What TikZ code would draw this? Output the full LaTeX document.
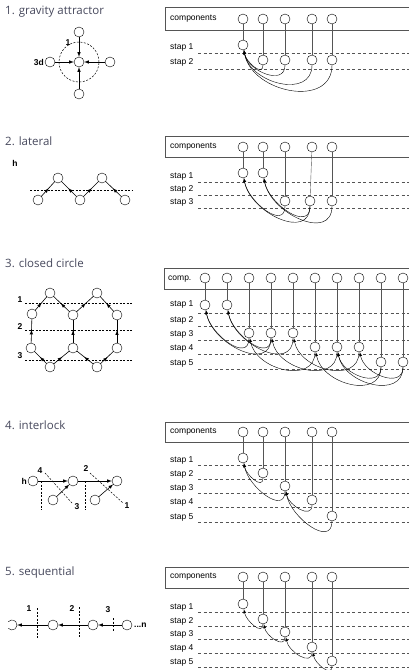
\documentclass[tikz,border=0pt]{standalone}
\usepackage{fontspec}
\setmainfont{Open Sans}
\newfontfamily\boxfont{Liberation Sans}
\usetikzlibrary{arrows,decorations.markings}

\definecolor{titlegray}{RGB}{70,72,92}
\definecolor{linegray}{RGB}{85,85,85}

\begin{document}
\begin{tikzpicture}[
  x = 1pt, y = 1pt,
  > = latex,
  comp/.style = {draw,circle,minimum size=10pt,inner sep=0pt,fill=white},
  heading/.style = {anchor=west,inner sep=0pt,text=titlegray,font=\fontsize{11.5}{13}\selectfont},
  tag/.style = {inner sep=0pt,font=\boxfont\bfseries\fontsize{8.5}{10}\selectfont},
  steptext/.style = {anchor=west,inner sep=0pt,font=\boxfont\fontsize{8.5}{10}\selectfont},
  stepline/.style = {linegray,dash pattern=on 3pt off 2.5pt,line width=0.4pt},
  guide/.style = {dash pattern=on 2pt off 1.5pt,line width=0.5pt},
  boxline/.style = {linegray,line width=0.5pt},
  link/.style = {linegray,line width=0.4pt},
  pull/.style = {->,line width=0.4pt,looseness=1.25},
  ringline/.style = {line width=0.6pt},
  arrow inside/.style = {postaction=decorate,decoration={markings,mark=at position .55 with \arrow{>}}}
  ]
  \useasboundingbox (0,0) rectangle (409,-670);

  % 1. gravity attractor
  \node[heading] (h1) at (5,-12) {1. gravity attractor};
  \draw[guide] (79,-62) circle[radius=20pt];
  \node[comp] (g0) at (79,-62) {};
  \node[comp] (gN) at (79,-32) {};
  \node[comp] (gW) at (50,-62) {};
  \node[comp] (gE) at (110,-62) {};
  \node[comp] (gS) at (79,-94) {};
  \node[tag] at (68,-43) {1};
  \node[tag,anchor=east] at (44,-62) {3d};
  \draw[ringline,->] (gN) -- (g0);
  \draw[ringline,->] (gW) -- (g0);
  \draw[ringline,->] (gE) -- (g0);
  \draw[ringline,->] (gS) -- (g0);

  \draw[boxline] (409,-7) -| (165,-30) -- (409,-30);
  \node[steptext] at (170,-19) {components};
  \node[steptext] at (170,-47) {stap 1};
  \node[steptext] at (170,-62) {stap 2};
  \draw[stepline] (198,-53) -- (409,-53);
  \draw[stepline] (198,-69) -- (409,-69);
  \foreach \n/\x in {1/243,2/263,3/285,4/312,5/332}
    \node[comp] (gt\n) at (\x,-19) {};
  \node[comp] (gs1) at (243,-45) {};
  \foreach \n/\x in {2/263,3/285,4/312,5/332}
    \node[comp] (gs\n) at (\x,-60) {};
  \foreach \n in {1,...,5}
    \draw[link] (gt\n) -- (gs\n);
  \foreach \n in {2,...,5}
    \draw[pull] (gs\n) to[out=-90,in=-80] (gs1);

  % 2. lateral
  \node[heading] (h2) at (5,-141) {2. lateral};
  \node[tag] at (15,-163) {h};
  \draw[guide] (30,-190) -- (132,-190);
  \node[comp] (l1) at (38,-200) {};
  \node[comp] (l2) at (58,-178) {};
  \node[comp] (l3) at (80,-200) {};
  \node[comp] (l4) at (102,-178) {};
  \node[comp] (l5) at (125,-200) {};
  \draw[ringline,arrow inside] (l1) -- (l2);
  \draw[ringline,arrow inside] (l3) -- (l2);
  \draw[ringline,arrow inside] (l3) -- (l4);
  \draw[ringline,arrow inside] (l5) -- (l4);

  \draw[boxline] (409,-136) -| (165,-157) -- (409,-157);
  \node[steptext] at (170,-147) {components};
  \node[steptext] at (170,-176) {stap 1};
  \node[steptext] at (170,-189) {stap 2};
  \node[steptext] at (170,-202) {stap 3};
  \draw[stepline] (198,-182) -- (409,-182);
  \draw[stepline] (198,-195) -- (409,-195);
  \draw[stepline] (198,-208) -- (409,-208);
  \foreach \n/\x in {1/243,2/263,3/285,4/312,5/332}
    \node[comp] (lt\n) at (\x,-147) {};
  \node[comp] (ls1) at (243,-173) {};
  \node[comp] (ls2) at (263,-173) {};
  \foreach \n/\x in {3/285,4/310,5/332}
    \node[comp] (ls\n) at (\x,-201) {};
  \foreach \n in {1,...,5}
    \draw[link] (lt\n) -- (ls\n);
  \draw[pull] (ls3) to[out=-90,in=-80] (ls1);
  \draw[pull] (ls4) to[out=-90,in=-80] (ls1);
  \draw[pull] (ls4) to[out=-90,in=-80] (ls2);
  \draw[pull] (ls5) to[out=-90,in=-80] (ls2);

  % 3. closed circle
  \node[heading] (h3) at (5,-263) {3. closed circle};
  \draw[guide] (25,-303) -- (132,-303);
  \draw[guide] (25,-330) -- (132,-330);
  \draw[guide] (25,-360) -- (132,-360);
  \node[tag] at (20,-300) {1};
  \node[tag] at (20,-327) {2};
  \node[tag] at (20,-356) {3};
  \node[comp] (ct1) at (50,-293) {};
  \node[comp] (ct2) at (97,-293) {};
  \node[comp] (cu1) at (32,-314) {};
  \node[comp] (cu2) at (73,-315) {};
  \node[comp] (cu3) at (117,-315) {};
  \node[comp] (cl1) at (31,-348) {};
  \node[comp] (cl2) at (73,-348) {};
  \node[comp] (cl3) at (117,-348) {};
  \node[comp] (cb1) at (50,-367) {};
  \node[comp] (cb2) at (97,-367) {};
  \draw[ringline,arrow inside] (cu1) -- (ct1);
  \draw[ringline,arrow inside] (cu2) -- (ct1);
  \draw[ringline,arrow inside] (cu2) -- (ct2);
  \draw[ringline,arrow inside] (cu3) -- (ct2);
  \draw[ringline,arrow inside] (cl1) -- (cu1);
  \draw[ringline,arrow inside] (cl2) -- (cu2);
  \draw[ringline,arrow inside] (cl3) -- (cu3);
  \draw[ringline,arrow inside] (cb1) -- (cl1);
  \draw[ringline,arrow inside] (cb1) -- (cl2);
  \draw[ringline,arrow inside] (cb2) -- (cl2);
  \draw[ringline,arrow inside] (cb2) -- (cl3);

  \draw[boxline] (409,-268) -| (164,-289) -- (409,-289);
  \node[steptext] at (168,-279) {comp.};
  \foreach \n/\y in {1/-304,2/-320,3/-334,4/-348,5/-363}
    \node[steptext] at (170,\y) {stap \n};
  \foreach \y in {-313,-326,-340,-354,-369}
    \draw[stepline] (198,\y) -- (409,\y);
  \foreach \n/\x in {1/205,2/227,3/249,4/271,5/293,6/315,7/337,8/359,9/381,10/403}
    \node[comp] (kt\n) at (\x,-278) {};
  \foreach \n/\x/\y in {1/205/-305,2/227/-305,3/249/-333,4/271/-333,5/293/-333,
                        6/315/-347,7/337/-347,8/359/-347,9/381/-362,10/403/-362}
    \node[comp] (ks\n) at (\x,\y) {};
  \foreach \n in {1,...,10}
    \draw[link] (kt\n) -- (ks\n);
  \foreach \a/\b in {3/1,4/1,4/2,5/2,6/3,7/4,8/5,9/6,9/7,10/7,10/8}
    \draw[pull] (ks\a) to[out=-90,in=-80] (ks\b);

  % 4. interlock
  \node[heading] (h4) at (5,-425) {4. interlock};
  \draw[guide] (41,-481) -- (41,-510);
  \draw[guide] (85,-481) -- (85,-510);
  \draw[guide] (45,-473) -- (72,-503);
  \draw[guide] (90,-473) -- (123,-503);
  \node[tag,anchor=east] at (27,-481) {h};
  \node[tag] at (40,-471) {4};
  \node[tag] at (86,-469) {2};
  \node[tag] at (77,-507) {3};
  \node[tag] at (127,-506) {1};
  \node[comp] (i1) at (33,-481) {};
  \node[comp] (i2) at (73,-481) {};
  \node[comp] (i3) at (117,-481) {};
  \node[comp] (i4) at (53,-500) {};
  \node[comp] (i5) at (95,-500) {};
  \draw[ringline,->] (i1) -- (i2);
  \draw[ringline,->] (i2) -- (i3);
  \draw[ringline,->] (i4) -- (i2);
  \draw[ringline,->] (i5) -- (i3);

  \draw[boxline] (409,-422) -| (165,-442) -- (409,-442);
  \node[steptext] at (170,-432) {components};
  \foreach \n/\y in {1/-460,2/-474,3/-488,4/-502,5/-517}
    \node[steptext] at (170,\y) {stap \n};
  \foreach \y in {-465,-479,-493,-507,-522}
    \draw[stepline] (198,\y) -- (409,\y);
  \foreach \n/\x in {1/243,2/263,3/285,4/312,5/332}
    \node[comp] (it\n) at (\x,-432) {};
  \foreach \n/\x/\y in {1/243/-458,2/263/-473,3/285/-486,4/312/-500,5/332/-516}
    \node[comp] (is\n) at (\x,\y) {};
  \foreach \n in {1,...,5}
    \draw[link] (it\n) -- (is\n);
  \draw[pull] (is2) to[out=-90,in=-80] (is1);
  \draw[pull] (is3) to[out=-90,in=-80] (is1);
  \draw[pull] (is4) to[out=-90,in=-80] (is3);
  \draw[pull] (is5) to[out=-90,in=-80] (is3);

  % 5. sequential
  \node[heading] (h5) at (5,-573) {5. sequential};
  \draw[guide] (37,-608) -- (37,-638);
  \draw[guide] (79,-607) -- (79,-638);
  \draw[guide] (113,-618) -- (113,-632);
  \node[tag] at (29,-609) {1};
  \node[tag] at (72,-609) {2};
  \node[tag] at (108,-610) {3};
  \node[circle,minimum size=10pt,inner sep=0pt] (q0) at (12,-625) {};
  \draw[line width=0.4pt] ([shift={(-140:5pt)}]q0.center) arc[start angle=-140,end angle=140,radius=5pt];
  \node[comp] (q1) at (53,-625) {};
  \node[comp] (q2) at (93,-625) {};
  \node[comp] (q3) at (127,-625) {};
  \node[tag,anchor=west] at (134,-625) {...n};
  \draw[ringline,->] (q1) -- (q0);
  \draw[ringline,->] (q2) -- (q1);
  \draw[ringline,->] (q3) -- (q2);

  \draw[boxline] (409,-567) -| (165,-588) -- (409,-588);
  \node[steptext] at (170,-577) {components};
  \foreach \n/\y in {1/-607,2/-621,3/-634,4/-648,5/-662}
    \node[steptext] at (170,\y) {stap \n};
  \foreach \y in {-612,-626,-639,-653,-667}
    \draw[stepline] (198,\y) -- (409,\y);
  \foreach \n/\x in {1/243,2/263,3/285,4/312,5/332}
    \node[comp] (qt\n) at (\x,-577) {};
  \foreach \n/\x/\y in {1/243/-604,2/263/-619,3/285/-632,4/312/-647,5/332/-661}
    \node[comp] (qs\n) at (\x,\y) {};
  \foreach \n in {1,...,5}
    \draw[link] (qt\n) -- (qs\n);
  \draw[pull] (qs2) to[out=-90,in=-80] (qs1);
  \draw[pull] (qs3) to[out=-90,in=-80] (qs2);
  \draw[pull] (qs4) to[out=-90,in=-80] (qs3);
  \draw[pull] (qs5) to[out=-90,in=-80] (qs4);
\end{tikzpicture}
\end{document}
